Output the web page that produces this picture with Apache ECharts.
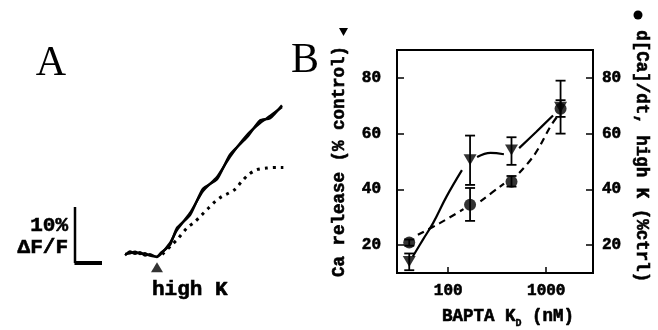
<!DOCTYPE html>
<html><head><meta charset="utf-8">
<script src="https://cdn.jsdelivr.net/npm/echarts@6/dist/echarts.min.js"></script>
<style>html,body{margin:0;padding:0;background:#fff}#c{width:658px;height:330px}</style>
</head><body><div id="c"></div>
<script>
// ---------- Panel B data ----------
const kdValues = [40, 167, 442, 1400];              // BAPTA KD (nM)
const caRelease = [14.1, 50.6, 54.1, 69.5];         // Ca release (% control), triangles
const caReleaseLow = [11, 41.6, 48.8, 60];
const caReleaseHigh = [17, 59.3, 58.7, 79];
const dCaDt = [20.9, 34.5, 42.7, 68.9];             // d[Ca]/dt high K (%ctrl), circles
const dCaDtLow = [19.8, 28.7, 41, 66];
const dCaDtHigh = [22, 40.5, 44.8, 72];
// fitted curves (segments separated by gaps around markers)
const releaseFitSegments = [
  [[43.5, 15.9], [55, 21.9], [70, 27.9], [96, 37.4], [138, 46.9]],
  [[197, 51.6], [270, 53.1], [370, 52.6]],
  [[529, 54.8], [788, 60.6], [1173, 66.5]]
];
const dCaFitSegments = [
  [[49, 23.7], [82, 27.9], [143, 32.9]],
  [[213, 35.7], [371, 42.1]],
  [[529, 45.9], [757, 52.4], [1127, 63.1], [1321, 66.5]]
];
const yTickLabels = [20, 40, 60, 80];
const xTickLabels = [100, 1000];

// ---------- Panel A data (time in ms, signal in % dF/F) ----------
const traceTime = [55.6, 61.1, 66.7, 72.2, 77.8, 83.3, 90.8, 94.4, 105.6, 113.3, 127.8, 142.2, 157.8, 172.2, 191.1, 205.6, 216.7, 230];
const trace1 = [0.86, 0.98, 1.27, 0.86, 0.98, 0.55, 0.38, 0.68, 2.82, 5.14, 8.18, 12.1, 14.6, 18.2, 22.1, 24.25, 25.5, 27.1];
const trace2 = [0.6, 1.3, 0.9, 1.2, 0.6, 0.8, 0.3, 0.9, 2.5, 5.5, 7.8, 12.5, 14.2, 18.6, 21.7, 24.7, 25.1, 27.4];
const dottedTime = [97, 107.4, 114.8, 124.1, 133.3, 140.7, 148.1, 155.6, 163, 170.4, 177.8, 185.2, 192.6, 201.9, 213, 224.1, 231.5];
const dottedTrace = [0.8, 2.46, 3.66, 5.45, 6.63, 7.82, 9.02, 10.2, 11.1, 11.7, 12.4, 13.8, 15.0, 15.9, 16.2, 16.3, 16.3];
const stimulusTime = 91.1;
const scaleBarPercent = 10;
const scaleBarMs = 30;

function joinSegments(segs) {
  const out = [];
  segs.forEach((s, i) => { if (i) out.push('-'); s.forEach(p => out.push(p)); });
  return out;
}
const errRender = (params, api) => {
  const x = api.value(0);
  const lo = api.coord([x, api.value(1)]);
  const hi = api.coord([x, api.value(2)]);
  const w = 5;
  const st = { stroke: '#000', lineWidth: 1.8 };
  return { type: 'group', children: [
    { type: 'line', shape: { x1: hi[0], y1: hi[1], x2: lo[0], y2: lo[1] }, style: st },
    { type: 'line', shape: { x1: hi[0] - w, y1: hi[1], x2: hi[0] + w, y2: hi[1] }, style: st },
    { type: 'line', shape: { x1: lo[0] - w, y1: lo[1], x2: lo[0] + w, y2: lo[1] }, style: st }
  ]};
};

const chart = echarts.init(document.getElementById('c'));
const heavy = { textBorderColor: '#000', textBorderWidth: 0.6 };
const axisText = Object.assign({ color: '#000', fontFamily: 'Liberation Mono', fontWeight: 'bold', fontSize: 16 }, heavy);
const nameText = Object.assign({ color: '#000', fontFamily: 'Liberation Mono', fontWeight: 'bold', fontSize: 17.5 }, heavy);
chart.setOption({
  animation: false,
  backgroundColor: '#fff',
  grid: [
    { left: 75, top: 90.8, width: 225, height: 179.2, outerBoundsMode: 'none' },
    { left: 397, top: 50, width: 196, height: 223, outerBoundsMode: 'none',
      show: true, borderColor: '#000', borderWidth: 2 }
  ],
  xAxis: [
    { gridIndex: 0, type: 'value', min: 0, max: 250, show: false },
    { gridIndex: 1, type: 'log', logBase: 10, min: 30, max: 3000,
      axisLine: { lineStyle: { color: '#000', width: 2 } },
      axisTick: { inside: true, length: 6, lineStyle: { color: '#000', width: 1.5 } },
      axisLabel: Object.assign({ margin: 10, showMinLabel: false, showMaxLabel: false,
        formatter: v => xTickLabels.indexOf(Math.round(v)) >= 0 ? String(Math.round(v)) : '' }, axisText),
      splitLine: { show: false },
      name: 'BAPTA K{sub|D} (nM)', nameLocation: 'middle', nameGap: 33,
      nameTextStyle: Object.assign({}, nameText, {
        padding: [0, 0, 0, 26],
        rich: { sub: { fontFamily: 'Liberation Mono', fontWeight: 'bold', fontSize: 10, verticalAlign: 'bottom',
          padding: [12, 0, 0, 0], textBorderColor: '#000', textBorderWidth: 0.4 } } })
    }
  ],
  yAxis: [
    { gridIndex: 0, type: 'value', min: -2, max: 30, show: false },
    { gridIndex: 1, type: 'value', min: 10, max: 90, splitNumber: 4, position: 'left',
      axisLine: { lineStyle: { color: '#000', width: 2 } },
      axisTick: { inside: true, length: 7, lineStyle: { color: '#000', width: 1.5 } },
      axisLabel: Object.assign({ margin: 16, showMinLabel: false, showMaxLabel: false,
        formatter: v => yTickLabels.indexOf(v) >= 0 ? String(v) : '' }, axisText),
      splitLine: { show: false },
      name: 'Ca release (% control)', nameLocation: 'middle', nameRotate: 90, nameGap: 48,
      nameTextStyle: nameText
    },
    { gridIndex: 1, type: 'value', min: 10, max: 90, splitNumber: 4, position: 'right',
      axisLine: { lineStyle: { color: '#000', width: 2 } },
      axisTick: { inside: true, length: 7, lineStyle: { color: '#000', width: 1.5 } },
      axisLabel: Object.assign({ margin: 9, showMinLabel: false, showMaxLabel: false,
        formatter: v => yTickLabels.indexOf(v) >= 0 ? String(v) : '' }, axisText),
      splitLine: { show: false },
      name: 'd[Ca]/dt, high K (%ctrl) ', nameLocation: 'middle', nameRotate: -90, nameGap: 39,
      nameTextStyle: nameText
    }
  ],
  series: [
    // Panel A
    { type: 'line', xAxisIndex: 0, yAxisIndex: 0, data: traceTime.map((t, i) => [t, trace1[i]]),
      showSymbol: false, smooth: 0.2, lineStyle: { color: '#000', width: 2.4 } },
    { type: 'line', xAxisIndex: 0, yAxisIndex: 0, data: traceTime.map((t, i) => [t, trace2[i]]),
      showSymbol: false, smooth: 0.2, lineStyle: { color: '#000', width: 2.4 } },
    { type: 'line', xAxisIndex: 0, yAxisIndex: 0, data: dottedTime.map((t, i) => [t, dottedTrace[i]]),
      showSymbol: false, smooth: 0.3, lineStyle: { color: '#000', width: 3, type: [3, 5] } },
    { type: 'line', xAxisIndex: 0, yAxisIndex: 0, data: [[0, scaleBarPercent - 0.75], [0, -0.75]],
      showSymbol: false, lineStyle: { color: '#000', width: 2.5 } },
    { type: 'line', xAxisIndex: 0, yAxisIndex: 0, data: [[-0.6, -0.75], [scaleBarMs, -0.75]],
      showSymbol: false, lineStyle: { color: '#000', width: 4 } },
    { type: 'scatter', xAxisIndex: 0, yAxisIndex: 0, data: [[stimulusTime, -1.5]],
      symbol: 'triangle', symbolSize: [12, 10], itemStyle: { color: '#000' } },
    // Panel B
    { type: 'line', xAxisIndex: 1, yAxisIndex: 1, data: joinSegments(releaseFitSegments),
      showSymbol: false, smooth: 0.4, connectNulls: false, lineStyle: { color: '#000', width: 2.2 }, z: 2 },
    { type: 'line', xAxisIndex: 1, yAxisIndex: 2, data: joinSegments(dCaFitSegments),
      showSymbol: false, smooth: 0.4, connectNulls: false, lineStyle: { color: '#000', width: 2.2, type: [7, 5] }, z: 2 },
    { type: 'custom', xAxisIndex: 1, yAxisIndex: 1, renderItem: errRender, z: 3,
      data: kdValues.map((k, i) => [k, caReleaseLow[i], caReleaseHigh[i]]) },
    { type: 'custom', xAxisIndex: 1, yAxisIndex: 2, renderItem: errRender, z: 3,
      data: kdValues.map((k, i) => [k, dCaDtLow[i], dCaDtHigh[i]]) },
    { type: 'scatter', xAxisIndex: 1, yAxisIndex: 1, data: kdValues.map((k, i) => [k, caRelease[i]]),
      symbol: 'triangle', symbolRotate: 180, symbolSize: [13, 11], itemStyle: { color: '#000' }, z: 4 },
    { type: 'scatter', xAxisIndex: 1, yAxisIndex: 2, data: kdValues.map((k, i) => [k, dCaDt[i]]),
      symbol: 'circle', symbolSize: 12, itemStyle: { color: '#000' }, z: 5 }
  ],
  graphic: [
    { type: 'text', x: 51, y: 64, style: { text: 'A', font: '42px "Liberation Serif"', fill: '#000', align: 'center', verticalAlign: 'middle' } },
    { type: 'text', x: 305, y: 61, style: { text: 'B', font: '42px "Liberation Serif"', fill: '#000', align: 'center', verticalAlign: 'middle' } },
    { type: 'text', x: 68, y: 226, style: { text: '10%', font: 'bold 21px "Liberation Mono"', fill: '#000', stroke: '#000', lineWidth: 0.6, align: 'right', verticalAlign: 'middle' } },
    { type: 'text', x: 68, y: 248, style: { text: 'ΔF/F', font: 'bold 21px "Liberation Mono"', fill: '#000', stroke: '#000', lineWidth: 0.6, align: 'right', verticalAlign: 'middle' } },
    { type: 'text', x: 152, y: 290, style: { text: 'high K', font: 'bold 21px "Liberation Mono"', fill: '#000', stroke: '#000', lineWidth: 0.6, align: 'left', verticalAlign: 'middle' } },
    { type: 'polygon', shape: { points: [[339, 28], [348, 28], [343.5, 36]] }, style: { fill: '#000' } },
    { type: 'circle', shape: { cx: 638, cy: 15, r: 4.5 }, style: { fill: '#000' } }
  ]
});
</script></body></html>
